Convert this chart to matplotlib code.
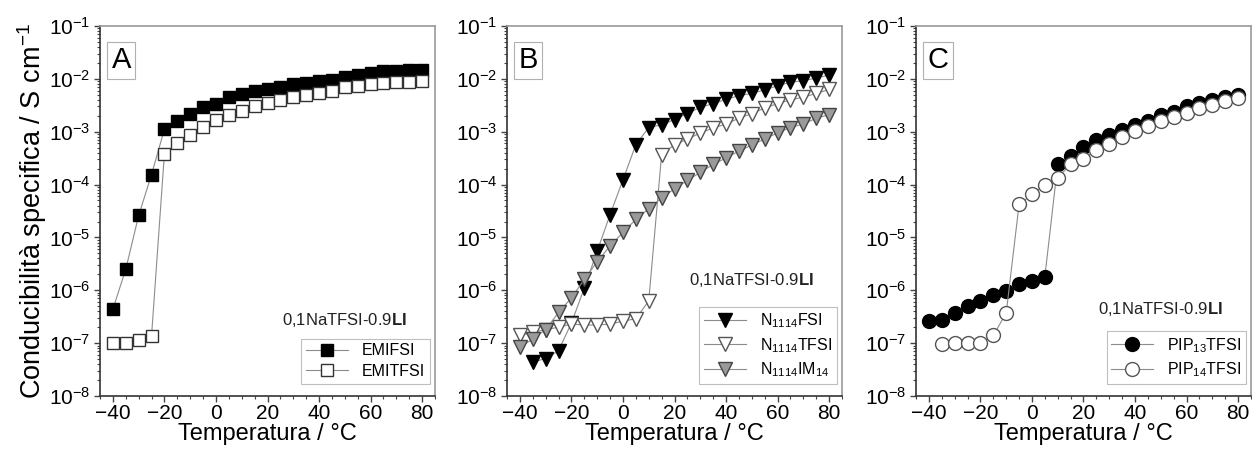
import matplotlib
matplotlib.use("Agg")
import matplotlib.pyplot as plt
from matplotlib.ticker import LogLocator, MultipleLocator, NullFormatter

plt.rcParams['font.family'] = ['Liberation Sans', 'DejaVu Sans']
plt.rcParams['mathtext.fontset'] = 'custom'
plt.rcParams['mathtext.rm'] = 'Liberation Sans'
plt.rcParams['mathtext.it'] = 'Liberation Sans:italic'
plt.rcParams['mathtext.bf'] = 'Liberation Sans:bold'

# temperatures (°C)
t_all = list(range(-40, 85, 5))
t_from35 = list(range(-35, 85, 5))

# panel A - imidazolium
emifsi = [4.4e-7, 2.5e-6, 2.6e-5, 1.55e-4, 1.12e-3, 1.57e-3, 2.2e-3, 2.9e-3, 3.3e-3,
          4.5e-3, 5.1e-3, 6.0e-3, 6.4e-3, 6.9e-3, 8.1e-3, 8.5e-3, 9.0e-3, 9.6e-3,
          1.07e-2, 1.17e-2, 1.31e-2, 1.38e-2, 1.42e-2, 1.47e-2, 1.5e-2]
emitfsi = [1.02e-7, 1.0e-7, 1.15e-7, 1.38e-7, 3.85e-4, 6.1e-4, 8.7e-4, 1.25e-3, 1.7e-3,
           2.1e-3, 2.5e-3, 3.0e-3, 3.5e-3, 4.0e-3, 4.6e-3, 5.0e-3, 5.4e-3, 6.0e-3,
           6.9e-3, 7.2e-3, 7.9e-3, 8.2e-3, 8.6e-3, 8.8e-3, 9.0e-3]

# panel B - ammonium
n_fsi = [4.4e-8, 5.1e-8, 7.2e-8, 2.4e-7, 1.1e-6, 5.5e-6, 2.7e-5, 1.23e-4, 5.7e-4,
         1.2e-3, 1.35e-3, 1.7e-3, 2.2e-3, 2.9e-3, 3.4e-3, 4.1e-3, 4.8e-3, 5.3e-3,
         6.2e-3, 7.4e-3, 8.6e-3, 9.3e-3, 1.03e-2, 1.19e-2]
n_tfsi = [1.4e-7, 1.6e-7, 1.8e-7, 2.0e-7, 2.3e-7, 2.2e-7, 2.2e-7, 2.3e-7, 2.6e-7,
          2.9e-7, 6.3e-7, 3.7e-4, 5.7e-4, 7.2e-4, 9.5e-4, 1.17e-3, 1.4e-3, 1.8e-3,
          2.2e-3, 2.8e-3, 3.4e-3, 4.0e-3, 4.5e-3, 5.3e-3, 6.3e-3]
n_im14 = [8.3e-8, 1.2e-7, 1.8e-7, 3.8e-7, 7.2e-7, 1.6e-6, 3.5e-6, 6.9e-6, 1.24e-5,
          2.2e-5, 3.5e-5, 5.6e-5, 8.3e-5, 1.2e-4, 1.7e-4, 2.4e-4, 3.2e-4, 4.3e-4,
          5.6e-4, 7.3e-4, 9.5e-4, 1.2e-3, 1.4e-3, 1.8e-3, 2.1e-3]

# panel C - piperidinium
pip13 = [2.6e-7, 2.7e-7, 3.7e-7, 5.0e-7, 6.3e-7, 8.3e-7, 9.7e-7, 1.3e-6, 1.5e-6,
         1.8e-6, 2.4e-4, 3.5e-4, 5.2e-4, 6.9e-4, 8.7e-4, 1.09e-3, 1.35e-3, 1.6e-3,
         2.1e-3, 2.4e-3, 3.0e-3, 3.5e-3, 4.0e-3, 4.5e-3, 5.0e-3]
pip14 = [9.6e-8, 1.0e-7, 1.0e-7, 1.0e-7, 1.4e-7, 3.7e-7, 4.2e-5, 6.5e-5, 1.0e-4,
         1.35e-4, 2.4e-4, 3.0e-4, 4.6e-4, 5.9e-4, 8.0e-4, 1.03e-3, 1.26e-3, 1.57e-3,
         1.9e-3, 2.3e-3, 2.8e-3, 3.2e-3, 3.8e-3, 4.3e-3]

LINE = '#8c8c8c'

fig = plt.figure(figsize=(12.52, 4.54), dpi=100)
W, H = 1252.0, 454.0
lefts = [100, 507, 916]
axes = [fig.add_axes([l / W, 58 / H, 335 / W, 370 / H]) for l in lefts]


def style(ax, letter):
    ax.set_yscale('log')
    ax.set_xlim(-45, 85)
    ax.set_ylim(1e-8, 1e-1)
    ax.xaxis.set_major_locator(MultipleLocator(20))
    ax.xaxis.set_minor_locator(MultipleLocator(5))
    ax.yaxis.set_major_locator(LogLocator(base=10, numticks=10))
    ax.yaxis.set_minor_locator(LogLocator(base=10, subs=range(2, 10), numticks=20))
    ax.yaxis.set_minor_formatter(NullFormatter())
    ax.tick_params(which='both', direction='out', top=False, right=False,
                   labelsize=15, color='#444444')
    ax.tick_params(which='major', length=4, width=1)
    ax.tick_params(which='minor', length=2.5, width=0.8)
    ax.tick_params(axis='y', pad=3)
    ax.tick_params(axis='x', pad=2)
    for s in ('left', 'bottom'):
        ax.spines[s].set_color('#333333')
        ax.spines[s].set_linewidth(1.2)
    for s in ('top', 'right'):
        ax.spines[s].set_color('#9a9a9a')
        ax.spines[s].set_linewidth(1.2)
    ax.set_xlabel('Temperatura / °C', fontsize=17, labelpad=0)
    ax.text(0.035, 0.945, letter, transform=ax.transAxes, fontsize=21,
            ha='left', va='top',
            bbox=dict(boxstyle='square,pad=0.15', fc='white', ec='#b0b0b0', lw=0.8))


def legend(ax, title_y):
    leg = ax.legend(loc='lower right', bbox_to_anchor=(1.0, 0.02),
                    frameon=True, fancybox=False, fontsize=11.5,
                    handlelength=2.6, borderpad=0.3, labelspacing=0.35,
                    handletextpad=0.9, borderaxespad=0.3)
    leg.get_frame().set_edgecolor('#b0b0b0')
    leg.get_frame().set_linewidth(0.8)
    ax.text(0.73, title_y, '0,1NaTFSI-0.9$\\mathbf{LI}$', transform=ax.transAxes,
            fontsize=12, ha='center', va='bottom', color='#222222')


# A
ax = axes[0]
ax.plot(t_all, emifsi, color=LINE, lw=0.8, marker='s', ms=9,
        mfc='black', mec='black', label='EMIFSI')
ax.plot(t_all, emitfsi, color=LINE, lw=0.8, marker='s', ms=8.5,
        mfc='white', mec='#333333', mew=1.0, label='EMITFSI')
style(ax, 'A')
ax.set_ylabel('Conducibilità specifica / S cm$^{-1}$', fontsize=19.5, labelpad=0)
legend(ax, 0.18)

# B
ax = axes[1]
ax.plot(t_from35, n_fsi, color=LINE, lw=0.8, marker='v', ms=10.5,
        mfc='black', mec='black', label='N$_{1114}$FSI')
ax.plot(t_all, n_tfsi, color=LINE, lw=0.8, marker='v', ms=10.5,
        mfc='white', mec='#555555', mew=1.0, label='N$_{1114}$TFSI')
ax.plot(t_all, n_im14, color=LINE, lw=0.8, marker='v', ms=10.5,
        mfc='#9a9a9a', mec='#444444', mew=1.0, label='N$_{1114}$IM$_{14}$')
style(ax, 'B')
legend(ax, 0.29)

# C
ax = axes[2]
ax.plot(t_all, pip13, color=LINE, lw=0.8, marker='o', ms=10,
        mfc='black', mec='black', label='PIP$_{13}$TFSI')
ax.plot(t_from35, pip14, color=LINE, lw=0.8, marker='o', ms=10,
        mfc='white', mec='#555555', mew=1.0, label='PIP$_{14}$TFSI')
style(ax, 'C')
legend(ax, 0.21)

fig.savefig('out.png', dpi=100)
